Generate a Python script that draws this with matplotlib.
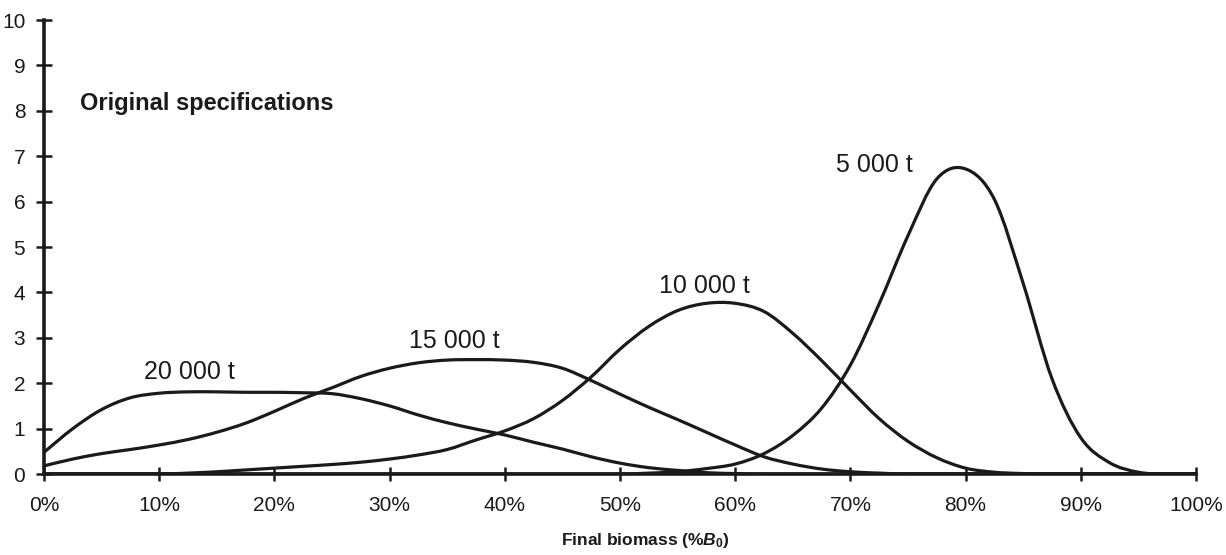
import matplotlib
matplotlib.use("Agg")
import numpy as np
import matplotlib.pyplot as plt
from matplotlib.path import Path
from matplotlib.patches import PathPatch
from matplotlib.ticker import FuncFormatter

plt.rcParams["font.family"] = ["Liberation Sans", "DejaVu Sans"]
plt.rcParams["mathtext.fontset"] = "custom"
plt.rcParams["mathtext.it"] = "Liberation Sans:bold:italic"
plt.rcParams["mathtext.rm"] = "Liberation Sans:bold"

# Final biomass as percentage of B0 (grid shared by all catch levels)
biomass_pct = [0, 2.5, 5, 7.5, 10, 12.5, 15, 17.5, 20, 22.5, 25, 27.5, 30, 32.5,
               35, 37.5, 40, 42.5, 45, 47.5, 50, 52.5, 55, 57.5, 60, 62.5, 65,
               67.5, 70, 72.5, 75, 77.5, 80, 82.5, 85, 87.5, 90, 92.5, 95, 97.5,
               100]

# Probability density of final biomass for each annual catch
catch_20000 = [0.48, 1.00, 1.42, 1.68, 1.78, 1.81, 1.81, 1.80, 1.80, 1.79, 1.77,
               1.66, 1.50, 1.30, 1.13, 0.99, 0.86, 0.70, 0.55, 0.38, 0.24, 0.14,
               0.08, 0.03, 0.01, 0, 0, 0, 0, 0, 0, 0, 0, 0, 0, 0, 0, 0, 0, 0, 0]
catch_15000 = [0.18, 0.33, 0.45, 0.54, 0.64, 0.76, 0.92, 1.12, 1.38, 1.66, 1.90,
               2.15, 2.33, 2.45, 2.51, 2.52, 2.51, 2.46, 2.33, 2.06, 1.76, 1.47,
               1.20, 0.92, 0.64, 0.38, 0.22, 0.11, 0.05, 0.02, 0, 0, 0, 0, 0, 0,
               0, 0, 0, 0, 0]
catch_10000 = [0, 0, 0, 0, 0, 0.02, 0.05, 0.09, 0.13, 0.17, 0.21, 0.26, 0.33,
               0.42, 0.54, 0.75, 0.95, 1.22, 1.62, 2.14, 2.75, 3.25, 3.60, 3.76,
               3.76, 3.58, 3.10, 2.50, 1.85, 1.22, 0.72, 0.36, 0.13, 0.04, 0.01,
               0, 0, 0, 0, 0, 0]
catch_5000 = [0, 0, 0, 0, 0, 0, 0, 0, 0, 0, 0, 0, 0, 0, 0, 0, 0, 0, 0, 0, 0,
              0.02, 0.05, 0.12, 0.22, 0.45, 0.85, 1.45, 2.40, 3.75, 5.25, 6.50,
              6.72, 6.05, 4.20, 2.10, 0.80, 0.25, 0.04, 0, 0]

series = [catch_20000, catch_15000, catch_10000, catch_5000]
series_labels = ["20 000 t", "15 000 t", "10 000 t", "5 000 t"]
label_x = [12.6, 35.6, 57.3, 72.1]
label_y = [2.25, 2.93, 4.15, 6.8]

x_ticks = list(range(0, 101, 10))
y_ticks = list(range(0, 11))

ink = "#1a1a1a"


def smooth_path(x, y):
    """Cardinal cubic curve through the points, as Bezier segments."""
    x = np.asarray(x, float)
    y = np.asarray(y, float)
    h = np.diff(x)
    m = np.zeros_like(y)
    m[1:-1] = (y[2:] - y[:-2]) / (x[2:] - x[:-2])
    m[0] = (y[1] - y[0]) / h[0]
    m[-1] = (y[-1] - y[-2]) / h[-1]
    m[y <= 0] = 0.0
    verts = [(x[0], y[0])]
    codes = [Path.MOVETO]
    for i in range(len(x) - 1):
        verts += [(x[i] + h[i] / 3, y[i] + m[i] * h[i] / 3),
                  (x[i + 1] - h[i] / 3, y[i + 1] - m[i + 1] * h[i] / 3),
                  (x[i + 1], y[i + 1])]
        codes += [Path.CURVE4] * 3
    return Path(verts, codes)


fig = plt.figure(figsize=(12.26, 5.55), dpi=100)
ax = fig.add_axes([0.0359, 0.1459, 0.9396, 0.818])

for values in series:
    ax.add_patch(PathPatch(smooth_path(biomass_pct, values), facecolor="none",
                           edgecolor=ink, lw=2.3, capstyle="round",
                           joinstyle="round", zorder=3))

for text, tx, ty in zip(series_labels, label_x, label_y):
    ax.text(tx, ty, text, ha="center", va="center", fontsize=18, color=ink)

ax.text(3.1, 8.17, "Original specifications", ha="left", va="center",
        fontsize=17, fontweight="bold", color=ink)

ax.set_xlim(0, 100)
ax.set_ylim(0, 10)
ax.set_xticks(x_ticks)
ax.set_yticks(y_ticks)
ax.xaxis.set_major_formatter(FuncFormatter(lambda v, p: f"{v:.0f}%"))

for side in ("top", "right"):
    ax.spines[side].set_visible(False)
for side in ("left", "bottom"):
    ax.spines[side].set_linewidth(2.6)
    ax.spines[side].set_color(ink)
    ax.spines[side].set_zorder(4)

ax.tick_params(axis="x", direction="inout", length=10, width=1.8, pad=11,
               labelsize=15, colors=ink)
ax.tick_params(axis="y", direction="inout", length=11, width=1.8, pad=8,
               labelsize=15, colors=ink)

ax.set_xlabel(r"Final biomass (%$\mathit{B}_{\mathit{0}}$)", fontsize=12.5,
              fontweight="bold", color=ink, labelpad=13)
ax.xaxis.set_label_coords(0.522, -0.125)

fig.savefig("out.png", dpi=100, facecolor="white")
